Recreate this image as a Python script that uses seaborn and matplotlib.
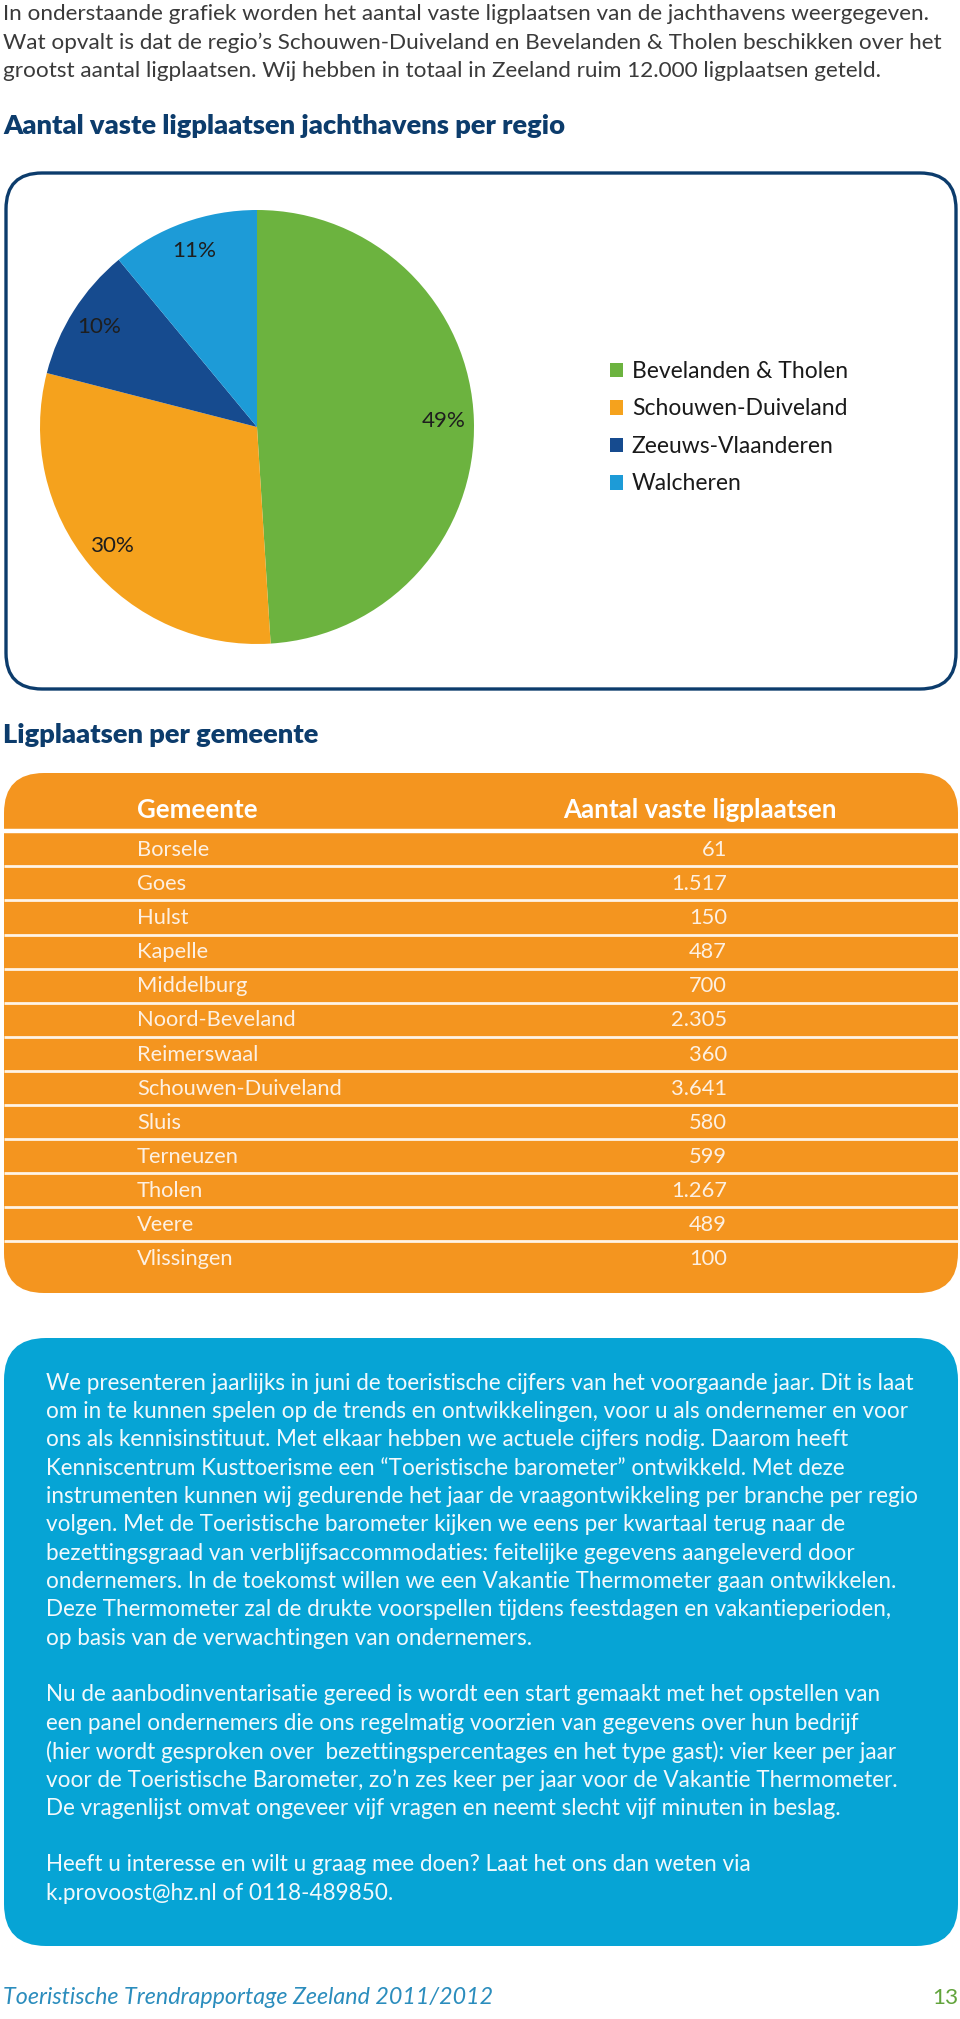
import matplotlib.pyplot as plt
import numpy as np
import seaborn as sns
from matplotlib.patches import FancyBboxPatch

# ---------------------------------------------------------------------------
# Data
# ---------------------------------------------------------------------------
regions = ["Bevelanden & Tholen", "Schouwen-Duiveland", "Zeeuws-Vlaanderen", "Walcheren"]
region_share = [49, 30, 10, 11]
region_colors = ["#6cb33f", "#f5a21d", "#164b8f", "#1d9bd7"]

gemeenten = [
    "Borsele", "Goes", "Hulst", "Kapelle", "Middelburg", "Noord-Beveland",
    "Reimerswaal", "Schouwen-Duiveland", "Sluis", "Terneuzen", "Tholen",
    "Veere", "Vlissingen",
]
ligplaatsen = [61, 1517, 150, 487, 700, 2305, 360, 3641, 580, 599, 1267, 489, 100]

intro_lines = [
    "In onderstaande grafiek worden het aantal vaste ligplaatsen van de jachthavens weergegeven.",
    "Wat opvalt is dat de regio\u2019s Schouwen-Duiveland en Bevelanden & Tholen beschikken over het",
    "grootst aantal ligplaatsen. Wij hebben in totaal in Zeeland ruim 12.000 ligplaatsen geteld.",
]

info_lines = [
    "We presenteren jaarlijks in juni de toeristische cijfers van het voorgaande jaar. Dit is laat",
    "om in te kunnen spelen op de trends en ontwikkelingen, voor u als ondernemer en voor",
    "ons als kennisinstituut. Met elkaar hebben we actuele cijfers nodig. Daarom heeft",
    "Kenniscentrum Kusttoerisme een \u201cToeristische barometer\u201d ontwikkeld. Met deze",
    "instrumenten kunnen wij gedurende het jaar de vraagontwikkeling per branche per regio",
    "volgen. Met de Toeristische barometer kijken we eens per kwartaal terug naar de",
    "bezettingsgraad van verblijfsaccommodaties: feitelijke gegevens aangeleverd door",
    "ondernemers. In de toekomst willen we een Vakantie Thermometer gaan ontwikkelen.",
    "Deze Thermometer zal de drukte voorspellen tijdens feestdagen en vakantieperioden,",
    "op basis van de verwachtingen van ondernemers.",
    "",
    "Nu de aanbodinventarisatie gereed is wordt een start gemaakt met het opstellen van",
    "een panel ondernemers die ons regelmatig voorzien van gegevens over hun bedrijf",
    "(hier wordt gesproken over  bezettingspercentages en het type gast): vier keer per jaar",
    "voor de Toeristische Barometer, zo\u2019n zes keer per jaar voor de Vakantie Thermometer.",
    "De vragenlijst omvat ongeveer vijf vragen en neemt slecht vijf minuten in beslag.",
    "",
    "Heeft u interesse en wilt u graag mee doen? Laat het ons dan weten via",
    "k.provoost@hz.nl of 0118-489850.",
]

# ---------------------------------------------------------------------------
# Style
# ---------------------------------------------------------------------------
W, H = 960, 2019
NAVY = "#0c3c6c"
ORANGE = "#f4951f"
BLUE = "#06a4d5"

sns.set_theme(style="white")
plt.rcParams["font.family"] = ["Lato", "DejaVu Sans"]


def fx(x):
    return x / W


def fy(y):
    return 1 - y / H


fig = plt.figure(figsize=(W / 100, H / 100), dpi=100)
fig.patch.set_facecolor("white")
renderer = fig.canvas.get_renderer()


def fitted_size(s, target_px, **kw):
    """Font size (pt) that makes string s about target_px wide."""
    t = fig.text(0, 0, s, fontsize=20, **kw)
    w = t.get_window_extent(renderer).width
    t.remove()
    return 20 * target_px / w


# background layer in pixel coordinates
bg = fig.add_axes([0, 0, 1, 1])
bg.set_xlim(0, W)
bg.set_ylim(H, 0)
bg.axis("off")

fs_intro = fitted_size(intro_lines[1], 940)
for i, line in enumerate(intro_lines):
    bg.text(3, 14 + 28.5 * i, line, fontsize=fs_intro,
            color="#3a3a3a", va="center", ha="left")

fs_title = fitted_size("Aantal vaste ligplaatsen jachthavens per regio", 563, fontweight="heavy")
bg.text(3, 126, "Aantal vaste ligplaatsen jachthavens per regio", fontsize=fs_title,
        fontweight="heavy", color=NAVY, va="center")
bg.text(3, 735, "Ligplaatsen per gemeente", fontsize=fs_title,
        fontweight="heavy", color=NAVY, va="center")

bg.add_patch(FancyBboxPatch((6, 173), 950, 516,
                            boxstyle="round,pad=0,rounding_size=36",
                            facecolor="white", edgecolor=NAVY, linewidth=2.4))
bg.add_patch(FancyBboxPatch((4, 773), 954, 520,
                            boxstyle="round,pad=0,rounding_size=40",
                            facecolor=ORANGE, edgecolor="none"))
bg.add_patch(FancyBboxPatch((4, 1338), 954, 608,
                            boxstyle="round,pad=0,rounding_size=42",
                            facecolor=BLUE, edgecolor="none"))

fs_info = fitted_size(info_lines[0], 873)
for i, line in enumerate(info_lines):
    if line:
        bg.text(46, 1383 + 28.35 * i, line, fontsize=fs_info,
                color="#f2f9fc", va="center", ha="left")

footer = "Toeristische Trendrapportage Zeeland 2011/2012"
fs_footer = fitted_size(footer, 490, style="italic")
bg.text(3, 1998, footer, fontsize=fs_footer, style="italic",
        color="#2b8dbd", va="center")
bg.text(958, 1998, "13", fontsize=fitted_size("13", 26), color="#62a43c",
        va="center", ha="right")

# ---------------------------------------------------------------------------
# Pie chart
# ---------------------------------------------------------------------------
cx, cy, r = 257, 427, 217
pie_ax = fig.add_axes([fx(cx - r), fy(cy + r), 2 * r / W, 2 * r / H])
wedges, _, autotexts = pie_ax.pie(
    region_share, colors=region_colors, startangle=90, counterclock=False,
    autopct="%.0f%%", pctdistance=0.86,
    textprops={"fontsize": fitted_size("49%", 44), "color": "#1e1e1e"},
    wedgeprops={"linewidth": 0},
)
pie_ax.set_xlim(-1, 1)
pie_ax.set_ylim(-1, 1)
pie_ax.set_aspect("equal")
pie_ax.patch.set_alpha(0)

fs_leg = fitted_size(regions[0], 216)
pie_ax.legend(
    wedges, regions, loc="upper left",
    bbox_to_anchor=(fx(610), fy(361)), bbox_transform=fig.transFigure,
    frameon=False, fontsize=fs_leg, handlelength=0.55, handleheight=0.6,
    handletextpad=0.4, labelspacing=0.72, borderpad=0, borderaxespad=0,
    labelcolor="#1a1a1a",
)

# ---------------------------------------------------------------------------
# Table
# ---------------------------------------------------------------------------
row0, row_h = 850, 34.1
top, bottom = 773, 1293
tab = fig.add_axes([0, fy(bottom), 1, (bottom - top) / H])
tab.set_xlim(0, W)
tab.set_ylim((bottom - row0) / row_h, (top - row0) / row_h)
tab.axis("off")
tab.patch.set_alpha(0)

header_y = (810 - row0) / row_h
fs_head = fitted_size("Aantal vaste ligplaatsen", 273, fontweight="bold")
tab.text(137, header_y, "Gemeente", fontsize=fs_head, fontweight="bold",
         color="white", va="center", ha="left")
tab.text(563, header_y, "Aantal vaste ligplaatsen", fontsize=fs_head, fontweight="bold",
         color="white", va="center", ha="left")

tab.hlines(-0.55, 4, 958, colors="white", linewidth=3.2)
tab.hlines(np.arange(len(gemeenten) - 1) + 0.48, 4, 958, colors="#fff4e6", linewidth=2.0)

fs_row = fitted_size("Schouwen-Duiveland", 206)
for i, (name, val) in enumerate(zip(gemeenten, ligplaatsen)):
    tab.text(137, i, name, fontsize=fs_row, color="#fdf0e2",
             va="center", ha="left")
    tab.text(727, i, f"{val:,}".replace(",", "."), fontsize=fs_row,
             color="#fdf0e2", va="center", ha="right")

fig.savefig("out.png", dpi=100)
